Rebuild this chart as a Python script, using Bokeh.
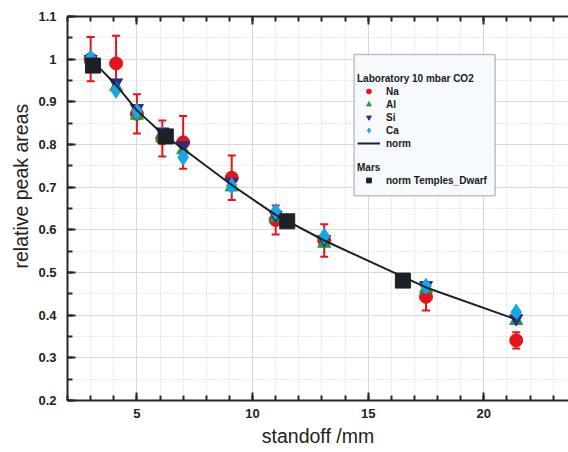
from bokeh.plotting import figure
from bokeh.models import (Legend, LegendItem, LinearAxis, SingleIntervalTicker, Whisker,
                          ColumnDataSource, BoxAnnotation, Range1d, TeeHead, Title,
                          CustomJSTickFormatter)
from bokeh.embed import file_html
from bokeh.resources import INLINE

# ---- data ----
standoff = [3.0, 4.1, 5.0, 6.1, 7.0, 9.1, 11.0, 13.1, 17.5, 21.4]
na = [1.0, 0.99, 0.872, 0.814, 0.805, 0.722, 0.623, 0.575, 0.443, 0.341]
na_err = [0.052, 0.065, 0.046, 0.042, 0.062, 0.052, 0.034, 0.038, 0.032, 0.019]
al = [1.0, 0.935, 0.868, 0.815, 0.787, 0.700, 0.628, 0.568, 0.462, 0.387]
si = [1.0, 0.945, 0.885, 0.830, 0.798, 0.712, 0.635, 0.578, 0.470, 0.392]
ca = [1.003, 0.927, 0.878, 0.822, 0.770, 0.703, 0.643, 0.585, 0.468, 0.407]
norm = [1.0, 0.94, 0.88, 0.825, 0.79, 0.705, 0.635, 0.575, 0.465, 0.39]
mars_standoff = [3.1, 6.25, 11.5, 16.5]
mars_norm = [0.985, 0.819, 0.620, 0.481]

FONT = "Liberation Sans"
AXC = "#22282c"

p = figure(width=568, height=452, output_backend="svg", toolbar_location=None,
           x_range=Range1d(2, 23.66), y_range=Range1d(0.2, 1.1),
           min_border_left=67, min_border_top=16, min_border_right=0, min_border_bottom=52,
           x_axis_label="standoff /mm")
p.outline_line_color = None
p.background_fill_color = "white"

# grid
for g in (p.xgrid, p.ygrid):
    g.grid_line_color = "#d9d9d9"
    g.grid_line_width = 1
    g.minor_grid_line_color = "#d0d0d0"
    g.minor_grid_line_dash = "1 2"

xt = SingleIntervalTicker(interval=5, num_minor_ticks=5)
yt = SingleIntervalTicker(interval=0.1, num_minor_ticks=2)
p.xaxis.ticker = xt
p.yaxis.ticker = yt
p.xgrid.ticker = xt
p.ygrid.ticker = yt

def style_axis(ax):
    ax.axis_line_color = AXC
    ax.axis_line_width = 2
    ax.major_tick_line_color = AXC
    ax.major_tick_line_width = 2
    ax.minor_tick_line_color = AXC
    ax.minor_tick_line_width = 2
    ax.major_tick_in = 8
    ax.major_tick_out = 0
    ax.minor_tick_in = 5
    ax.minor_tick_out = 0
    ax.major_label_text_font = FONT
    ax.major_label_text_font_style = "bold"
    ax.major_label_text_font_size = "13px"
    ax.major_label_text_color = "#222222"
    ax.axis_label_text_font = FONT
    ax.axis_label_text_font_style = "normal"
    ax.axis_label_text_font_size = "19.5px"
    ax.axis_label_text_color = "#222222"

for ax in (p.xaxis[0], p.yaxis[0]):
    style_axis(ax)
p.xaxis.major_label_standoff = 8
p.xaxis.axis_label_standoff = 4
p.yaxis.major_label_standoff = 11

top = LinearAxis(ticker=xt, formatter=CustomJSTickFormatter(code="return ''"))
style_axis(top)
top.major_label_standoff = 0
p.add_layout(top, "above")

# y axis title (placed higher than centre, like the reference)
p.add_layout(Title(text="relative peak areas", align="left", offset=132, standoff=7,
                   text_font=FONT, text_font_size="19.5px", text_font_style="normal",
                   text_color="#222222"), "left")

# error bars
src_na = ColumnDataSource(dict(x=standoff, y=na,
                               lo=[v - e for v, e in zip(na, na_err)],
                               hi=[v + e for v, e in zip(na, na_err)]))
RED = "#e3141b"
GREEN = "#1f9e3d"
NAVY = "#2f2c86"
CYAN = "#19a6e8"
BLACK = "#1b2127"

wh = Whisker(source=src_na, base="x", upper="hi", lower="lo", line_color=RED, line_width=2,
             upper_head=TeeHead(size=8, line_color=RED, line_width=2),
             lower_head=TeeHead(size=8, line_color=RED, line_width=2))
p.add_layout(wh)

r_na = p.scatter("x", "y", source=src_na, marker="circle", size=13, color=RED)
r_al = p.scatter(standoff, al, marker="triangle", size=13, color=GREEN)
r_si = p.scatter(standoff, si, marker="inverted_triangle", size=13, color=NAVY)
r_ca = p.scatter(standoff, ca, marker="diamond", size=16, color=CYAN)
r_norm = p.line(standoff, norm, line_color=BLACK, line_width=2)
r_mars = p.scatter(mars_standoff, mars_norm, marker="square", size=15, color=BLACK)

# legend frame
box = BoxAnnotation(left=14.39, right=20.49, top=1.011, bottom=0.680,
                    fill_color="#f6f9fd", fill_alpha=1.0, line_color="#3a3a3a", line_width=1.5,
                    level="annotation")
p.add_layout(box)

def style_leg(lg):
    lg.background_fill_alpha = 0
    lg.border_line_color = None
    lg.padding = 0
    lg.margin = 0
    lg.spacing = 1
    lg.label_height = 12
    lg.glyph_height = 12
    lg.glyph_width = 23
    lg.label_standoff = 6
    lg.label_text_font = FONT
    lg.label_text_font_style = "bold"
    lg.label_text_font_size = "10px"
    lg.label_text_color = "#1a1a1a"
    lg.title_text_font = FONT
    lg.title_text_font_style = "bold"
    lg.title_text_font_size = "10px"
    lg.title_text_color = "#1a1a1a"
    lg.title_standoff = 1
    lg.level = "overlay"

leg1 = Legend(title="Laboratory 10 mbar CO2", items=[
    LegendItem(label="Na", renderers=[r_na]),
    LegendItem(label="Al", renderers=[r_al]),
    LegendItem(label="Si", renderers=[r_si]),
    LegendItem(label="Ca", renderers=[r_ca]),
    LegendItem(label="norm", renderers=[r_norm]),
], location=(290, 251))
style_leg(leg1)
leg2 = Legend(title="Mars", items=[
    LegendItem(label="norm Temples_Dwarf", renderers=[r_mars]),
], location=(290, 214))
style_leg(leg2)
p.add_layout(leg1, "center")
p.add_layout(leg2, "center")

open("out.html", "w").write(file_html(p, INLINE))
